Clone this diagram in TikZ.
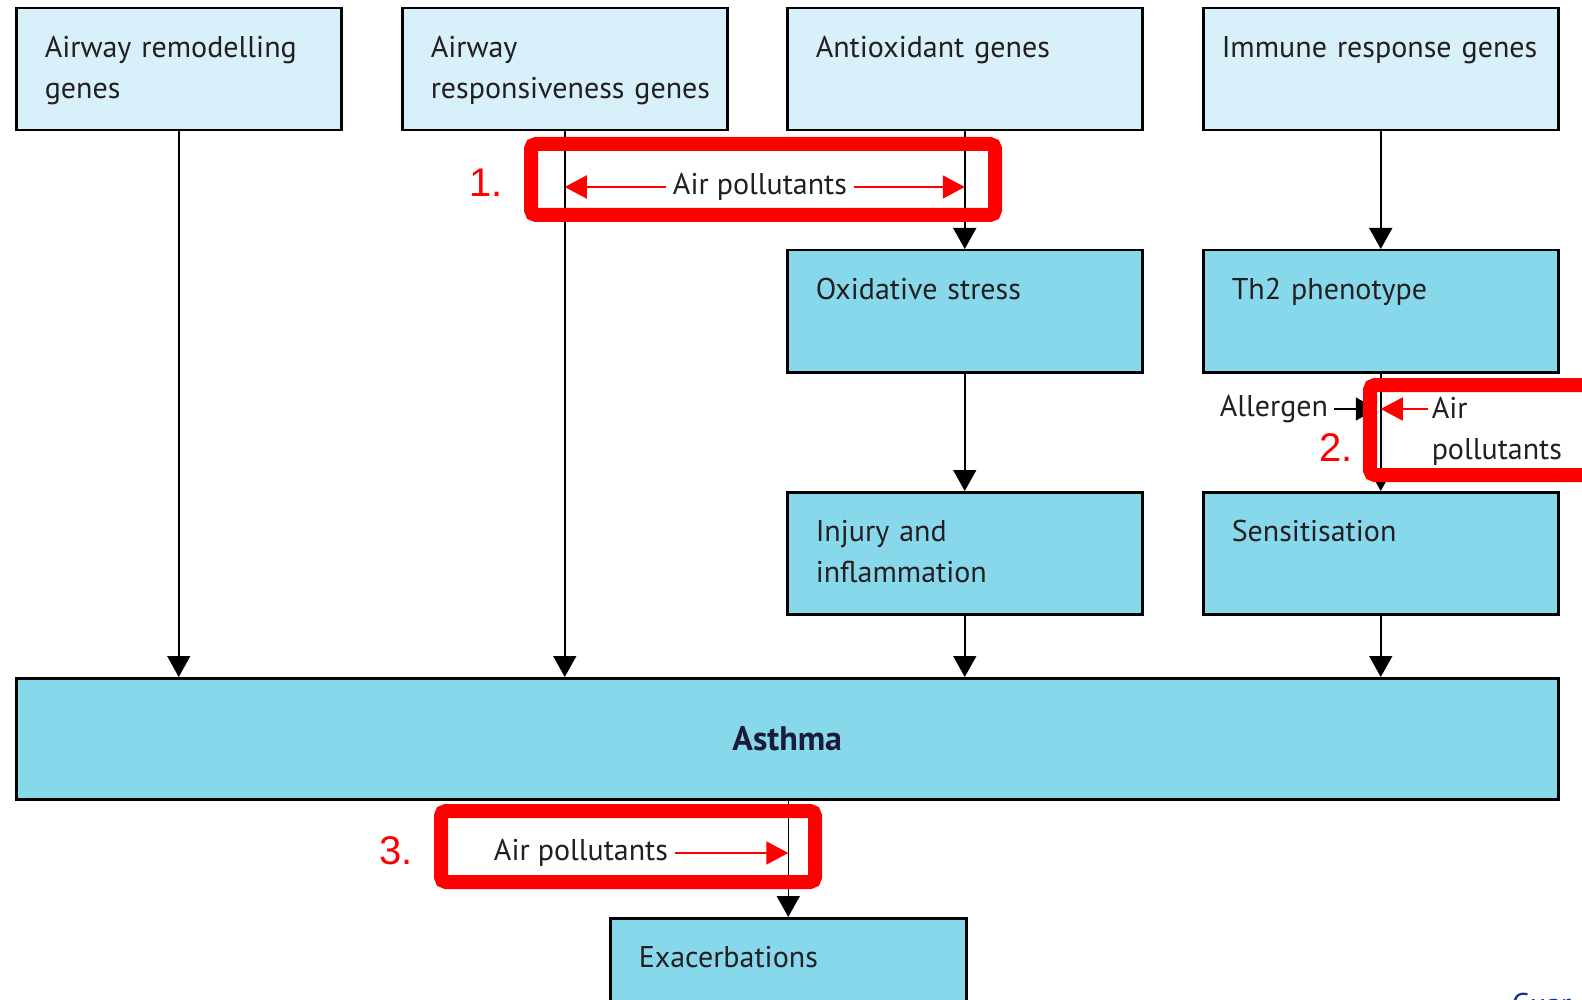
\documentclass[tikz,border=0pt]{standalone}
\usepackage{fontspec}
\usepackage{tikz}
\usetikzlibrary{arrows.meta,positioning}
\newfontfamily\ptsans{PT Sans}
\newfontfamily\arialfont{Liberation Sans}
\newcommand\diagfont{\ptsans\fontsize{30pt}{41pt}\selectfont}
\newcommand\numfont{\arialfont\fontsize{40pt}{48pt}\selectfont}
\definecolor{boxlight}{RGB}{216,240,249}
\definecolor{boxdark}{RGB}{136,216,236}
\definecolor{inkgray}{RGB}{35,31,32}
\definecolor{asthmanavy}{RGB}{27,27,58}
\definecolor{linkblue}{RGB}{20,50,140}
\tikzset
{
    lightbox/.style  = {draw=black, line width=2.5pt, fill=boxlight, inner sep=0pt, anchor=north west, minimum height=122pt},
    darkbox/.style   = {lightbox, fill=boxdark},
    boxtext/.style   = {anchor=north west, align=left, inner sep=0pt, text height=21pt, text width=340pt, font=\diagfont, text=inkgray},
    plaintext/.style = {inner sep=0pt, inner xsep=6pt, font=\diagfont, text=inkgray},
    redframe/.style  = {draw=red, line width=14pt, rounded corners=5pt},
    redarrow/.style  = {draw=red, line width=2pt, -{Triangle[length=22pt, width=23pt]}},
    rednum/.style    = {text=red, font=\numfont, inner sep=0pt}
}
\begin{document}
\begin{tikzpicture}[x=1pt, y=-1pt, >={Triangle[length=21pt, width=23pt]}, line width=1.5pt]
    \fill [white] (0,0) rectangle (1582,1000);
    \useasboundingbox (0,0) rectangle (1582,1000);
    \clip (0,0) rectangle (1582,1000);

    % gene boxes
    \node [lightbox, minimum width=325pt] (remodel) at (15,7) {};
    \node [lightbox, minimum width=325pt] (respons) at (401,7) {};
    \node [lightbox, minimum width=355pt] (antiox) at (786,7) {};
    \node [lightbox, minimum width=355pt] (immune) at (1202,7) {};
    % steps
    \node [darkbox, minimum width=355pt] (oxid) at (786,249) {};
    \node [darkbox, minimum width=355pt] (th2) at (1202,249) {};
    \node [darkbox, minimum width=355pt] (injury) at (786,491) {};
    \node [darkbox, minimum width=355pt] (sensit) at (1202,491) {};
    \node [darkbox, minimum width=1542pt, minimum height=121pt, font=\ptsans\fontsize{34pt}{40pt}\selectfont\bfseries, text=asthmanavy] (asthma) at (15,677) {Asthma};
    \node [darkbox, minimum width=356pt, minimum height=160pt] (exacerb) at (609,917) {};

    % box texts
    \node [boxtext] (remodeltxt) at ([xshift=29pt, yshift=-29pt] remodel.north west) {Airway remodelling\\genes};
    \node [boxtext] (responstxt) at ([xshift=29pt, yshift=-29pt] respons.north west) {Airway\\responsiveness genes};
    \node [boxtext] (antioxtxt) at ([xshift=29pt, yshift=-29pt] antiox.north west) {Antioxidant genes};
    \node [boxtext] (immunetxt) at ([xshift=19pt, yshift=-29pt] immune.north west) {Immune response genes};
    \node [boxtext] (oxidtxt) at ([xshift=29pt, yshift=-29pt] oxid.north west) {Oxidative stress};
    \node [boxtext] (th2txt) at ([xshift=29pt, yshift=-29pt] th2.north west) {Th2 phenotype};
    \node [boxtext] (injurytxt) at ([xshift=29pt, yshift=-29pt] injury.north west) {Injury and\\inflammation};
    \node [boxtext] (sensittxt) at ([xshift=29pt, yshift=-29pt] sensit.north west) {Sensitisation};
    \node [boxtext] (exacerbtxt) at ([xshift=29pt, yshift=-29pt] exacerb.north west) {Exacerbations};

    % flow
    \draw [->] (remodel.south) -- (remodel.south |- asthma.north);
    \draw [->] (respons.south) -- (respons.south |- asthma.north);
    \draw [->] (antiox) -- (oxid);
    \draw [->] (oxid) -- (injury);
    \draw [->] (injury.south) -- (injury.south |- asthma.north);
    \draw [->] (immune) -- (th2);
    \draw [->] (th2) -- (sensit);
    \draw [->] (sensit.south) -- (sensit.south |- asthma.north);
    \draw [->] (asthma.south -| exacerb) -- (exacerb);

    % allergen
    \node [plaintext, inner xsep=0pt, anchor=west] (allergen) at (1219,409) {Allergen};
    \draw [->] ([xshift=5pt] allergen.east) -- ([xshift=-4pt] allergen.east -| th2.south);

    % 1.
    \node [plaintext] (airpol1) at (760,187) {Air pollutants};
    \draw [redarrow] (airpol1.west) -- (airpol1.west -| respons.south);
    \draw [redarrow] (airpol1.east) -- (airpol1.east -| antiox.south);
    \draw [redframe] (531,144) rectangle (995,215);
    \node [rednum] (num1) at (486,183) {1.};

    % 2.
    \node [boxtext, text width=200pt] (airpol2) at (1431,397) {Air\\pollutants};
    \coordinate (pol2tail) at (1428,409);
    \draw [redarrow] (pol2tail) -- (pol2tail -| th2.south);
    \draw [redframe] (1370,385) rectangle (1620,475);
    \node [rednum] (num2) at (1336,448) {2.};

    % 3.
    \node [plaintext] (airpol3) at (581,853) {Air pollutants};
    \draw [redarrow] (airpol3.east) -- (airpol3.east -| exacerb.north);
    \draw [redframe] (441,811) rectangle (815,882);
    \node [rednum] (num3) at (396,851) {3.};

    \node [anchor=base west, inner sep=0pt, font=\ptsans\fontsize{30pt}{36pt}\selectfont, text=linkblue] (guar) at (1511,1014) {Guar};
\end{tikzpicture}
\end{document}
